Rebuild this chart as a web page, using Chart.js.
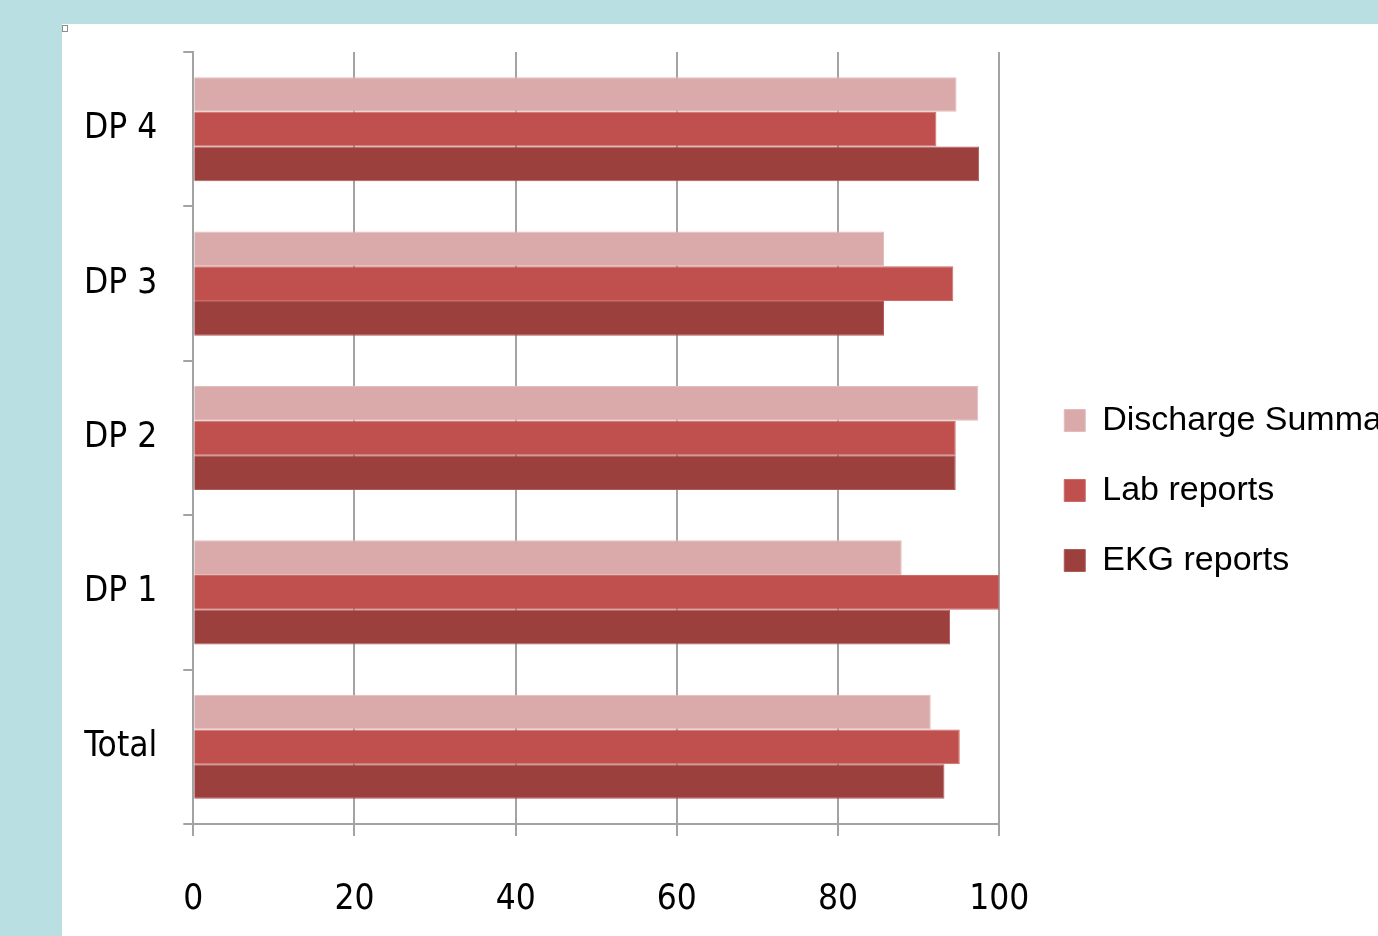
<!DOCTYPE html>
<html>
<head>
<meta charset="utf-8">
<script src="https://cdn.jsdelivr.net/npm/chart.js@4"></script>
<style>
  html, body { margin: 0; padding: 0; width: 1378px; height: 936px; overflow: hidden; background: #b9dfe3; }
  #panel { position: absolute; left: 62px; top: 24px; width: 1400px; height: 912px; background: #fff; }
  #chart { position: absolute; left: 58px; top: 5px; }
  #mark { position: absolute; left: 62px; top: 25px; width: 4px; height: 5px; border: 1px solid #8c8c8c; background: #fff; }
</style>
</head>
<body>
<div id="panel"></div>
<canvas id="chart" width="1500" height="965"></canvas>
<div id="mark"></div>
<script>
// categories top to bottom, values in percent
const categories = ['DP 4', 'DP 3', 'DP 2', 'DP 1', 'Total'];
const dischargeSummary = [94.7, 85.7, 97.4, 87.9, 91.5];
const labReports = [92.2, 94.3, 94.6, 100, 95.1];
const ekgReports = [97.5, 85.7, 94.6, 93.9, 93.2];
const xTicks = [0, 20, 40, 60, 80, 100];

const axisFont = "'DejaVu Sans Condensed', 'DejaVu Sans', sans-serif";
const legendFont = "'Liberation Sans', Arial, sans-serif";
const gridColor = '#a3a3a3';

// place the legend further right / lower than Chart.js does and
// widen its clip box so the long label runs off the page like the original
const legendShift = {
    id: 'legendShift',
    afterLayout(chart) {
        const lg = chart.legend;
        lg.left = chart.chartArea.right + 29;
        lg.right = lg.left + 600;
        lg.top += 6;
        lg.bottom += 6;
    }
};

const ctx = document.getElementById('chart').getContext('2d');
new Chart(ctx, {
    type: 'bar',
    data: {
        labels: categories,
        datasets: [
            {
                label: 'Discharge Summary',
                data: dischargeSummary,
                backgroundColor: '#daa9a9',
                borderColor: '#e3bcbc',
                borderWidth: 1
            },
            {
                label: 'Lab reports',
                data: labReports,
                backgroundColor: '#c0504d',
                borderColor: '#cc6a67',
                borderWidth: 1
            },
            {
                label: 'EKG reports',
                data: ekgReports,
                backgroundColor: '#9c403e',
                borderColor: '#b05a58',
                borderWidth: 1
            }
        ]
    },
    options: {
        indexAxis: 'y',
        responsive: false,
        animation: false,
        devicePixelRatio: 1,
        layout: {
            padding: { left: 0, top: 0, bottom: 6, right: 245 }
        },
        datasets: {
            bar: { barPercentage: 1, categoryPercentage: 0.674 }
        },
        scales: {
            x: {
                min: 0,
                max: 100,
                afterBuildTicks: axis => { axis.ticks = xTicks.map(v => ({ value: v })); },
                grid: { color: gridColor, lineWidth: 2, tickLength: 12 },
                border: { color: gridColor, width: 2 },
                ticks: {
                    padding: 43,
                    maxRotation: 0,
                    color: '#000',
                    font: { family: axisFont, size: 35 }
                }
            },
            y: {
                grid: { offset: true, drawOnChartArea: false, color: gridColor, lineWidth: 2, tickLength: 10 },
                border: { color: gridColor, width: 2 },
                ticks: {
                    padding: 26,
                    color: '#000',
                    font: { family: axisFont, size: 35 }
                }
            }
        },
        plugins: {
            tooltip: { enabled: false },
            legend: {
                position: 'right',
                align: 'center',
                labels: {
                    boxWidth: 21,
                    boxHeight: 22,
                    padding: 36,
                    color: '#000',
                    font: { family: legendFont, size: 34 }
                }
            }
        }
    },
    plugins: [legendShift]
});
</script>
</body>
</html>
